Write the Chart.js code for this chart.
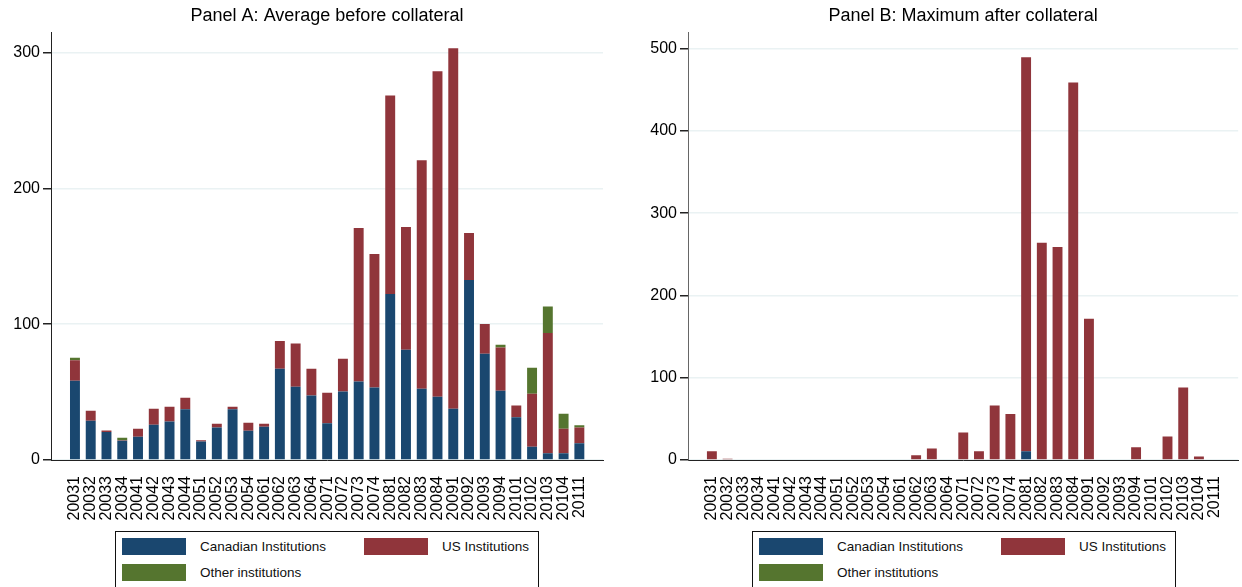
<!DOCTYPE html>
<html>
<head>
<meta charset="utf-8">
<script src="https://cdn.jsdelivr.net/npm/chart.js@4/dist/chart.umd.min.js"></script>
<style>
body { margin: 0; background: #fff; width: 1242px; height: 587px; overflow: hidden; position: relative; font-family: "Liberation Sans", Arial, sans-serif; }
canvas { position: absolute; top: 0; }
.legend { position: absolute; top: 531px; width: 424px; height: 80px; border: 1px solid #111; box-sizing: border-box; }
.item { position: absolute; display: flex; align-items: center; font-size: 13.5px; color: #111; white-space: nowrap; }
.sw { display: inline-block; width: 64px; height: 17px; margin-right: 14px; }
</style>
</head>
<body>
<canvas id="panelA" width="621" height="520" style="left:0"></canvas>
<canvas id="panelB" width="621" height="520" style="left:621px"></canvas>
<div class="legend" id="legendA" style="left:115px"></div>
<div class="legend" id="legendB" style="left:752px"></div>
<script>
const quarters = ['20031', '20032', '20033', '20034', '20041', '20042', '20043', '20044',
  '20051', '20052', '20053', '20054', '20061', '20062', '20063', '20064',
  '20071', '20072', '20073', '20074', '20081', '20082', '20083', '20084',
  '20091', '20092', '20093', '20094', '20101', '20102', '20103', '20104', '20111'];

// Panel A: average before collateral
const canadianA = [58.3, 28.9, 20.6, 14.2, 17.2, 26.0, 28.4, 37.3, 13.7, 24.0, 37.3, 21.6, 24.5, 67.2, 53.9, 47.5,
  27.0, 50.5, 57.8, 53.4, 122.3, 81.1, 52.5, 46.6, 37.7, 132.6, 78.2, 51.0, 31.4, 9.8, 4.9, 4.9, 12.3];
const usA = [15.2, 7.4, 1.2, 0.4, 5.8, 11.7, 10.8, 8.5, 0.8, 2.7, 1.9, 5.9, 2.2, 20.5, 31.9, 19.7,
  22.5, 24.0, 113.0, 98.3, 146.1, 90.5, 168.3, 239.7, 265.5, 34.6, 22.0, 31.8, 8.8, 39.0, 88.7, 18.1, 11.7];
const otherA = [1.7, 0, 0, 1.8, 0, 0, 0, 0, 0, 0, 0, 0, 0, 0, 0, 0,
  0, 0, 0, 0, 0, 0, 0, 0, 0, 0, 0, 2.0, 0, 19.1, 19.4, 11.1, 1.5];
const yTicksA = [0, 100, 200, 300];

// Panel B: maximum after collateral
const canadianB = [0, 0, 0, 0, 0, 0, 0, 0, 0, 0, 0, 0, 0, 0, 0, 0,
  0, 0, 0, 0, 10.5, 0, 0, 0, 0, 0, 0, 0, 0, 0, 0, 0, 0];
const usB = [10.5, 1.6, 0, 0, 0, 0, 0, 0, 0, 0, 0, 0, 0, 5.7, 14.1, 0,
  33.5, 10.5, 66.3, 55.8, 479.0, 264.2, 259.0, 459.0, 171.7, 0, 0, 15.4, 0, 28.7, 88.1, 4.4, 0];
const otherB = [0, 0, 0, 0, 0, 0, 0, 0, 0, 0, 0, 0, 0, 0, 0, 0,
  0, 0, 0, 0, 0, 0, 0, 0, 0, 0, 0, 0, 0, 0, 0, 0, 0];
const yTicksB = [0, 100, 200, 300, 400, 500];

const seriesNames = ['Canadian Institutions', 'US Institutions', 'Other institutions'];
const seriesColors = ['#1a476f', '#90353b', '#55752f'];

Chart.defaults.font.family = '"Liberation Sans", Arial, sans-serif';
Chart.defaults.color = '#000';

const toPoints = vals => vals.map((v, i) => ({ x: i, y: v }));

function makePanel(id, title, series, yMax, yTicks, yWidth, rightPad, yAxisColor) {
  return new Chart(document.getElementById(id), {
    type: 'bar',
    data: {
      datasets: series.map((vals, k) => ({
        label: seriesNames[k],
        data: toPoints(vals),
        backgroundColor: seriesColors[k],
        borderWidth: 0,
        barPercentage: 0.63,
        categoryPercentage: 1
      }))
    },
    options: {
      responsive: false,
      animation: false,
      layout: { padding: { left: 0, right: rightPad, top: 0, bottom: 0 } },
      plugins: {
        legend: { display: false },
        tooltip: { enabled: false },
        title: {
          display: true,
          text: title,
          fullSize: false,
          color: '#000',
          font: { size: 18, weight: 'normal' },
          padding: { top: 5, bottom: 5.6 }
        }
      },
      scales: {
        x: {
          type: 'linear',
          stacked: true,
          offset: false,
          min: -1.52,
          max: 33.5,
          grid: { display: false },
          border: { display: true, color: '#222', width: 1 },
          ticks: {
            autoSkip: false,
            minRotation: 90,
            maxRotation: 90,
            padding: 8,
            color: '#000',
            font: { size: 16 },
            callback: v => quarters[v]
          },
          afterBuildTicks: s => { s.ticks = quarters.map((q, i) => ({ value: i })); },
          afterFit: s => { s.height = 60; }
        },
        y: {
          stacked: true,
          min: 0,
          max: yMax,
          grid: { color: '#eaf2f3', lineWidth: 1.5, tickColor: '#222', tickLength: 8 },
          border: { color: yAxisColor, width: 1 },
          ticks: { padding: 3, color: '#000', font: { size: 16 } },
          afterBuildTicks: s => { s.ticks = yTicks.map(v => ({ value: v })); },
          afterFit: s => { s.width = yWidth; }
        }
      }
    }
  });
}

function buildLegend(chart, id) {
  const box = document.getElementById(id);
  chart.data.datasets.forEach((ds, i) => {
    const item = document.createElement('div');
    item.className = 'item';
    item.style.left = (i % 2 ? 248 : 6) + 'px';
    item.style.top = (i < 2 ? 6 : 32) + 'px';
    const sw = document.createElement('span');
    sw.className = 'sw';
    sw.style.background = ds.backgroundColor;
    item.appendChild(sw);
    item.appendChild(document.createTextNode(ds.label));
    box.appendChild(item);
  });
}

const chartA = makePanel('panelA', 'Panel A: Average before collateral',
  [canadianA, usA, otherA], 315, yTicksA, 51, 18, '#222');
const chartB = makePanel('panelB', 'Panel B: Maximum after collateral',
  [canadianB, usB, otherB], 520, yTicksB, 67, 2, '#666');

buildLegend(chartA, 'legendA');
buildLegend(chartB, 'legendB');
</script>
</body>
</html>
